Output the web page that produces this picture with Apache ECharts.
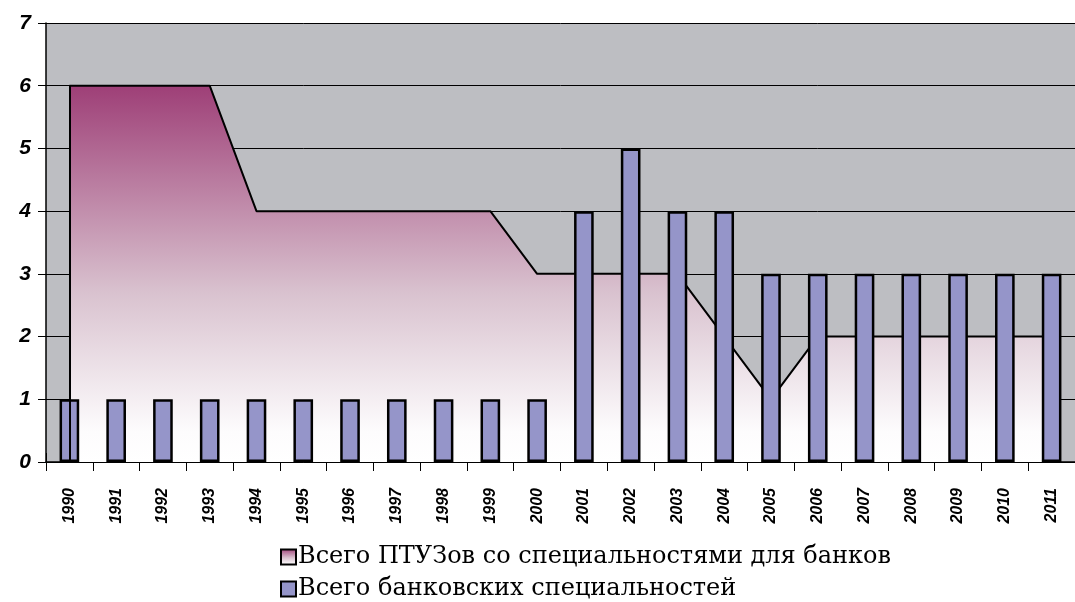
<!DOCTYPE html>
<html>
<head>
<meta charset="utf-8">
<script src="https://cdn.jsdelivr.net/npm/echarts@6/dist/echarts.min.js"></script>
<style>
  html, body { margin: 0; padding: 0; background: #fff; }
  #main { width: 1075px; height: 602px; }
</style>
</head>
<body>
<div id="main"></div>
<script>
// данные
const years = ['1990', '1991', '1992', '1993', '1994', '1995', '1996', '1997', '1998', '1999', '2000',
  '2001', '2002', '2003', '2004', '2005', '2006', '2007', '2008', '2009', '2010', '2011'];
const ptuTotal = [6, 6, 6, 6, 4, 4, 4, 4, 4, 4, 3, 3, 3, 3, 2, 1, 2, 2, 2, 2, 2, 2];
const bankSpecs = [1, 1, 1, 1, 1, 1, 1, 1, 1, 1, 1, 4, 5, 4, 4, 3, 3, 3, 3, 3, 3, 3];
const yTicks = [0, 1, 2, 3, 4, 5, 6, 7];

const nameArea = 'Всего ПТУЗов со специальностями для банков';
const nameBar = 'Всего банковских специальностей';

const areaGradient = new echarts.graphic.LinearGradient(0, 0, 0, 1, [
  { offset: 0, color: '#9e3f77' },
  { offset: 0.55, color: '#d9c2cf' },
  { offset: 0.92, color: '#fdfcfd' },
  { offset: 1, color: '#ffffff' }
]);

const option = {
  animation: false,
  grid: {
    left: 46,
    top: 23,
    right: -14,
    bottom: 140,
    show: true,
    backgroundColor: '#bdbec2',
    borderWidth: 0
  },
  legend: {
    orient: 'vertical',
    left: 280,
    top: 545,
    height: 100,
    padding: 0,
    itemGap: 8,
    itemWidth: 15,
    itemHeight: 15,
    textStyle: { fontFamily: 'DejaVu Serif', fontSize: 24, color: '#000', padding: [0, 0, 0, -3] },
    data: [
      { name: nameArea, icon: 'rect', itemStyle: { color: areaGradient, borderColor: '#000', borderWidth: 2 } },
      { name: nameBar, icon: 'rect', itemStyle: { color: '#9595c9', borderColor: '#000', borderWidth: 2 } }
    ]
  },
  xAxis: [
    {
      type: 'category',
      data: years,
      boundaryGap: true,
      axisLine: { lineStyle: { color: '#000', width: 1.5 } },
      axisTick: { show: true, length: 9, lineStyle: { color: '#000' } },
      axisLabel: {
        rotate: 90,
        interval: 0,
        margin: 26,
        color: '#000',
        fontFamily: 'Liberation Sans',
        fontSize: 16,
        fontWeight: 'bold',
        fontStyle: 'italic'
      },
      splitLine: { show: false }
    },
    {
      // вторая ось только для засечек внутрь (крестовые засечки как в Excel)
      type: 'category',
      data: years,
      position: 'bottom',
      boundaryGap: true,
      axisLine: { show: false },
      axisTick: { show: true, inside: true, length: 9, lineStyle: { color: '#000' } },
      axisLabel: { show: false },
      splitLine: { show: false }
    }
  ],
  yAxis: {
    type: 'value',
    min: yTicks[0],
    max: yTicks[yTicks.length - 1],
    interval: 1,
    axisLine: { show: true, lineStyle: { color: '#000', width: 1.5 } },
    axisTick: { show: true, length: 8, lineStyle: { color: '#000' } },
    axisLabel: {
      margin: 15,
      color: '#000',
      fontFamily: 'Liberation Sans',
      fontSize: 21,
      fontWeight: 'bold',
      fontStyle: 'italic'
    },
    splitLine: { show: true, lineStyle: { color: '#000', width: 1 } }
  },
  series: [
    {
      name: nameArea,
      type: 'line',
      data: ptuTotal,
      symbol: 'none',
      lineStyle: { color: '#000', width: 2 },
      itemStyle: { color: '#9e3f77' },
      areaStyle: { color: areaGradient, opacity: 1 },
      z: 2,
      markLine: {
        silent: true,
        symbol: ['none', 'none'],
        label: { show: false },
        lineStyle: { color: '#000', width: 2, type: 'solid' },
        data: [[{ coord: [years[0], 0] }, { coord: [years[0], ptuTotal[0]] }]]
      }
    },
    {
      name: nameBar,
      type: 'bar',
      data: bankSpecs,
      barWidth: '42%',
      itemStyle: { color: '#9595c9', borderColor: '#000', borderWidth: 2.5 },
      z: 3
    }
  ]
};

let chart = echarts.init(document.getElementById('main'));
chart.setOption(option);

// шрифты подгружаются не сразу - перерисовать после загрузки
Promise.all([
  document.fonts.load('bold italic 21px "Liberation Sans"'),
  document.fonts.load('24px "DejaVu Serif"')
]).then(function () {
  chart.clear();
  chart.setOption(option, true);
});

window.addEventListener('resize', function () {
  chart.resize();
});
</script>
</body>
</html>
